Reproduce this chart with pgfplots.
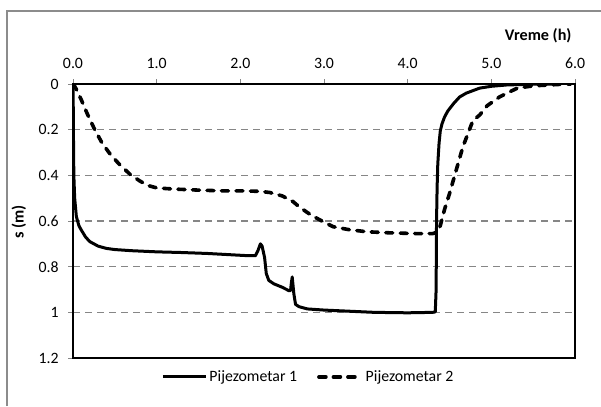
\documentclass[border=0pt]{standalone}
\usepackage{fontspec}
\setmainfont{Carlito}
\usepackage{pgfplots}
\pgfplotsset{compat=1.18}
\definecolor{gridgray}{RGB}{134,134,134}
\definecolor{framegray}{RGB}{140,140,140}

\begin{document}
\fontsize{15.8bp}{19bp}\selectfont
\begin{tikzpicture}[x=1bp,y=1bp]
\path[use as bounding box] (0,0) rectangle (601,-406);
\draw[framegray, line width=1.2bp] (7,-406) -- (7,-11) -- (601,-11);
\begin{axis}[
    at={(73bp,-358bp)}, anchor=south west,
    scale only axis,
    width=502bp, height=274bp,
    xmin=0, xmax=6, ymin=0, ymax=1.2,
    y dir=reverse,
    xtick={0,1,2,3,4,5,6},
    xticklabels={0.0,1.0,2.0,3.0,4.0,5.0,6.0},
    ytick={0,0.2,0.4,0.6,0.8,1,1.2},
    yticklabels={0,0.2,0.4,0.6,0.8,1,1.2},
    xtick pos=right, xticklabel pos=right,
    ytick pos=left,
    tick align=outside,
    major tick length=5bp,
    tick style={gridgray, line width=1bp},
    ymajorgrids,
    major grid style={gridgray, line width=1.4bp, dash pattern=on 7bp off 5bp},
    axis line style={black, line width=1.6bp},
    ticklabel style={font=\fontsize{15.8bp}{19bp}\selectfont},
    xticklabel style={yshift=5bp},
    yticklabel style={xshift=-4bp},
    xlabel={\textbf{Vreme (h)}},
    xlabel style={at={(axis description cs:1.004,1.16)}, anchor=base east,
        font=\fontsize{16.2bp}{19bp}\selectfont},
    ylabel={\textbf{s (m)}},
    ylabel style={at={(axis description cs:-0.108,0.497)}, anchor=center,
        font=\fontsize{16.2bp}{19bp}\selectfont},
    legend columns=2,
    legend style={at={(axis description cs:0.469,-0.069)}, anchor=center,
        draw=none, fill=none, font=\fontsize{15.8bp}{19bp}\selectfont,
        /tikz/every even column/.append style={column sep=18bp}},
    legend image code/.code={\draw[#1] (0bp,0bp) -- (43bp,0bp);},
]
\addplot[black, line width=3bp, line join=round] coordinates {
    (0,0) (0.003,0.1) (0.006,0.25) (0.01,0.4) (0.02,0.5) (0.04,0.58)
    (0.07,0.62) (0.1,0.64) (0.15,0.67) (0.2,0.69) (0.3,0.71) (0.4,0.72)
    (0.5,0.725) (0.7,0.73) (1.0,0.735) (1.3,0.738) (1.6,0.742) (1.9,0.748)
    (2.1,0.752) (2.18,0.752) (2.21,0.73) (2.24,0.70) (2.26,0.71) (2.29,0.76)
    (2.31,0.83) (2.34,0.86) (2.4,0.875) (2.5,0.89) (2.58,0.905) (2.6,0.905)
    (2.61,0.87) (2.62,0.845) (2.64,0.92) (2.66,0.965) (2.7,0.975) (2.8,0.985)
    (3.0,0.99) (3.3,0.995) (3.6,1.0) (4.0,1.002) (4.3,1.0) (4.33,0.998)
    (4.34,0.9) (4.345,0.6) (4.352,0.45) (4.36,0.35) (4.375,0.26) (4.39,0.205)
    (4.41,0.175) (4.44,0.145) (4.48,0.118) (4.55,0.085) (4.62,0.057)
    (4.7,0.04) (4.86,0.018) (5.0,0.01) (5.19,0.004) (5.5,0.001) (5.82,0)
};
\addlegendentry{Pijezometar 1}
\addplot[black, line width=3.6bp, line cap=round, dash pattern=on 7bp off 7.5bp] coordinates {
    (0,0) (0.02,0.01) (0.05,0.03) (0.1,0.07) (0.17,0.13) (0.26,0.2)
    (0.35,0.26) (0.45,0.31) (0.55,0.35) (0.68,0.395) (0.8,0.425) (0.9,0.445)
    (1.0,0.455) (1.2,0.46) (1.52,0.465) (1.8,0.468) (2.0,0.468) (2.23,0.47)
    (2.35,0.475) (2.5,0.49) (2.63,0.515) (2.71,0.54) (2.85,0.575) (3.0,0.605)
    (3.11,0.625) (3.3,0.638) (3.51,0.647) (3.8,0.652) (4.1,0.655) (4.3,0.655)
    (4.36,0.648) (4.39,0.62) (4.44,0.55) (4.5,0.48) (4.57,0.39) (4.66,0.275)
    (4.78,0.16) (4.86,0.136) (4.95,0.095) (5.1,0.056) (5.31,0.018) (5.5,0.008)
    (5.7,0.004) (5.85,0.001) (5.95,0)
};
\addlegendentry{Pijezometar 2}
\end{axis}
\end{tikzpicture}
\end{document}
